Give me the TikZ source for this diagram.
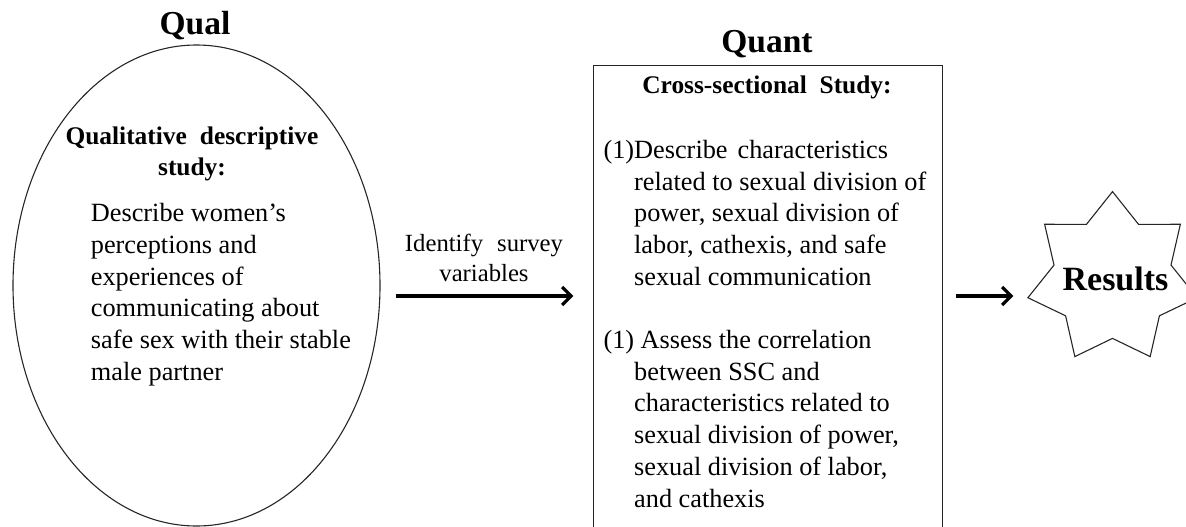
\documentclass[tikz,border=0pt]{standalone}
\usepackage{fontspec}
\setmainfont{Liberation Serif}
\usetikzlibrary{arrows.meta,shapes.geometric}
\begin{document}
\begin{tikzpicture}[x=1pt,y=-1pt,
  outline/.style={draw=black!85, line width=1.1pt, inner sep=0pt},
  flow/.style={line width=3.2pt, -{Straight Barb[length=9pt,width=18pt]}},
  phase/.style={font=\fontsize{33.5}{40}\selectfont\bfseries, inner sep=0pt, anchor=base},
  headtext/.style={font=\fontsize{25.4}{31}\selectfont\bfseries, inner sep=0pt},
  bodytext/.style={font=\fontsize{26.3}{31.7}\selectfont, inner sep=0pt},
  edgetext/.style={font=\fontsize{24.7}{30}\selectfont, inner sep=0pt}
]
\useasboundingbox (0,0) rectangle (1186,527);

% phase titles
\node[phase] (qualtitle) at (195,34.3) {Qual};
\node[phase] (quanttitle) at (767,52.7) {Quant};

% qualitative phase: ellipse
\node[outline, ellipse, minimum width=367pt, minimum height=481pt] (qual) at (196.5,285.5) {};
\node[headtext, anchor=base] (qualhead) at (192,144)
  {\begin{tabular}[t]{@{}c@{}}Qualitative\hspace{13pt}descriptive\\study:\end{tabular}};
\node[bodytext, anchor=base west] (qualbody) at (90.7,221.7)
  {\begin{tabular}[t]{@{}l@{}}
   Describe women’s\\
   perceptions and\\
   experiences of\\
   communicating about\\
   safe sex with their stable\\
   male partner
   \end{tabular}};

% quantitative phase: box
\node[outline, rectangle, minimum width=348.4pt, minimum height=480pt, anchor=north west] (quant) at (593.3,65) {};
\node[headtext, anchor=base] (quanthead) at (767,93.5) {Cross-sectional\hspace{12.7pt}Study:};
\node[bodytext, anchor=base west] (quantbody) at (603.3,158.3)
  {\begin{tabular}[t]{@{}l@{}l@{}}
   (1)&Describe\hspace{10pt}characteristics\\
   &related to sexual division of\\
   &power, sexual division of\\
   &labor, cathexis, and safe\\
   &sexual communication\\
   &\\
   (1)&\ Assess the correlation\\
   &between SSC and\\
   &characteristics related to\\
   &sexual division of power,\\
   &sexual division of labor,\\
   &and cathexis
   \end{tabular}};

% results: seven-pointed star around its label
\node[font=\fontsize{34}{40}\selectfont\bfseries, inner sep=0pt, anchor=base] (res) at (1115.5,290) {Results};
\coordinate (starc) at (1112.5,278.4);
\foreach \k in {0,...,6} {
  \coordinate (so\k) at ([shift={(-90+\k*51.4286:86.8)}]starc);
  \coordinate (si\k) at ([shift={(-64.2857+\k*51.4286:60)}]starc);
}
\draw[outline, line join=miter] (so0) -- (si0) -- (so1) -- (si1) -- (so2) -- (si2) -- (so3) -- (si3)
  -- (so4) -- (si4) -- (so5) -- (si5) -- (so6) -- (si6) -- cycle;

% connectors
\coordinate (flowline) at (0,296);
\draw[flow] ([xshift=15pt]qual.east |- flowline) -- ([xshift=-20pt]quant.west |- flowline);
\draw[flow] ([xshift=13.3pt]quant.east |- flowline) -- ([xshift=-102.2pt]res.center |- flowline);
\node[edgetext, anchor=base] (survey) at (484,251.7)
  {\begin{tabular}[t]{@{}c@{}}Identify\hspace{14pt}survey\\variables\end{tabular}};
\end{tikzpicture}
\end{document}
